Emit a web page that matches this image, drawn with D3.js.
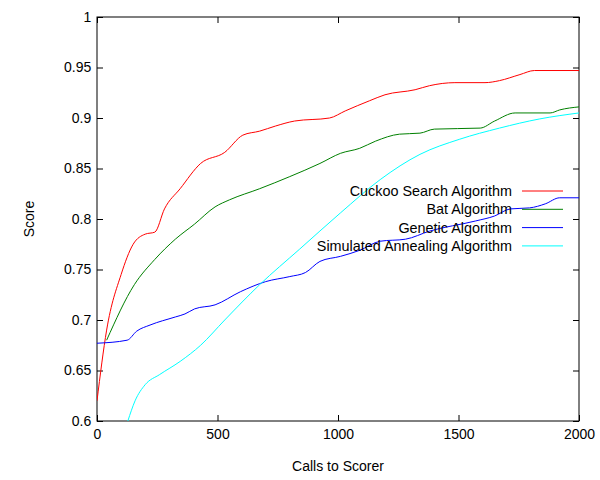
<!DOCTYPE html>
<html><head><meta charset="utf-8">
<script src="https://d3js.org/d3.v7.min.js"></script>
<style>body{margin:0;background:#fff}text{font-family:"Liberation Sans",Arial,sans-serif}</style>
</head><body><div id="chart"></div>
<script>
var cuckooX = [0,40,100,150,200,240,280,345,430,530,605,675,740,820,965,1030,1130,1195,1320,1380,1485,1610,1670,1755,1815,2000];
var cuckooY = [0.62,0.69,0.745,0.775,0.785,0.787,0.81,0.83,0.855,0.866,0.883,0.887,0.892,0.897,0.9,0.907,0.917,0.923,0.928,0.932,0.935,0.935,0.937,0.943,0.947,0.947];
var batX = [40,155,240,325,405,490,550,675,800,925,1010,1090,1155,1255,1340,1400,1590,1650,1735,1880,1920,2000];
var batY = [0.68,0.735,0.76,0.78,0.795,0.812,0.819,0.83,0.842,0.855,0.865,0.87,0.877,0.884,0.885,0.889,0.89,0.897,0.905,0.905,0.908,0.911];
var geneticX = [0,125,165,220,325,365,405,490,595,700,800,865,925,1010,1090,1175,1280,1380,1570,1650,1715,1795,1860,1920,2000];
var geneticY = [0.677,0.68,0.689,0.695,0.703,0.706,0.711,0.715,0.728,0.738,0.743,0.747,0.758,0.763,0.769,0.778,0.78,0.788,0.798,0.803,0.81,0.811,0.815,0.821,0.821];
var annealX = [128,158,200,260,345,430,530,675,840,1010,1175,1340,1505,1670,1835,2000];
var annealY = [0.6,0.62,0.636,0.646,0.659,0.675,0.7,0.735,0.77,0.806,0.839,0.864,0.879,0.89,0.899,0.905];
var names = ["Cuckoo Search Algorithm","Bat Algorithm","Genetic Algorithm","Simulated Annealing Algorithm"];
var colors = ["#ff0000","#008000","#0000ff","#00ffff"];
var xTicks = [0,500,1000,1500,2000];
var yTicks = [0.6,0.65,0.7,0.75,0.8,0.85,0.9,0.95,1];

var svg = d3.select('#chart').append('svg').attr('width',600).attr('height',480);
var x = d3.scaleLinear().domain([0,2000]).range([97,579]);
var y = d3.scaleLinear().domain([0.6,1]).range([421,17]);

svg.append('rect').attr('x',97).attr('y',17).attr('width',482).attr('height',404)
   .attr('fill','none').attr('stroke','#000');

var gx = svg.append('g').attr('transform','translate(0,421)')
   .call(d3.axisBottom(x).tickValues(xTicks).tickSize(-6).tickFormat(d3.format('d')));
var gxt = svg.append('g').attr('transform','translate(0,17)')
   .call(d3.axisTop(x).tickValues(xTicks).tickSize(-6).tickFormat(''));
var gy = svg.append('g').attr('transform','translate(97,0)')
   .call(d3.axisLeft(y).tickValues(yTicks).tickSize(-6).tickFormat(function(d){return d3.format('')(+d.toFixed(2));}));
var gyr = svg.append('g').attr('transform','translate(579,0)')
   .call(d3.axisRight(y).tickValues(yTicks).tickSize(-6).tickFormat(''));
[gx,gxt,gy,gyr].forEach(function(g){
  g.select('.domain').remove();
  g.selectAll('text').attr('font-size',14).attr('fill','#000').attr('font-family','Liberation Sans, Arial, sans-serif');
});
gx.selectAll('text').attr('dy','1.1em');
gy.selectAll('text').attr('dx','-0.2em');

svg.append('text').attr('x',338).attr('y',471).attr('text-anchor','middle').attr('font-size',14).text('Calls to Scorer');
svg.append('text').attr('transform','translate(34,219) rotate(-90)').attr('text-anchor','middle').attr('font-size',14).text('Score');

svg.append('clipPath').attr('id','clip').append('rect').attr('x',97).attr('y',17).attr('width',482).attr('height',404);
var series = [[cuckooX,cuckooY],[batX,batY],[geneticX,geneticY],[annealX,annealY]];
var line = d3.line().x(function(d){return x(d[0]);}).y(function(d){return y(d[1]);}).curve(d3.curveMonotoneX);
series.forEach(function(s,i){
  svg.append('path').datum(d3.zip(s[0],s[1])).attr('d',line).attr('clip-path','url(#clip)')
     .attr('fill','none').attr('stroke',colors[i]).attr('stroke-width',1);
});

names.forEach(function(n,i){
  var ly = 191 + i*18.3;
  svg.append('text').attr('x',512).attr('y',ly+5).attr('text-anchor','end').attr('font-size',14.4).text(n);
  svg.append('line').attr('x1',522).attr('x2',563).attr('y1',ly).attr('y2',ly).attr('stroke',colors[i]);
});
</script></body></html>
